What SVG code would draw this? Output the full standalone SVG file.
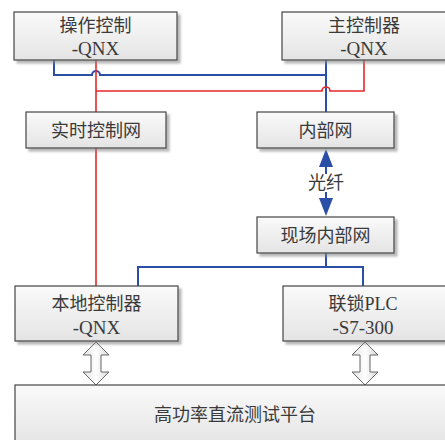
<svg xmlns="http://www.w3.org/2000/svg" width="445" height="440" viewBox="0 0 445 440">
<defs>
<linearGradient id="g" x1="0" y1="0" x2="0" y2="1"><stop offset="0" stop-color="#fafafa"/><stop offset="1" stop-color="#e4e4e4"/></linearGradient>
<linearGradient id="ga" x1="0" y1="0" x2="1" y2="0"><stop offset="0" stop-color="#e0e0e0"/><stop offset="0.5" stop-color="#ffffff"/><stop offset="1" stop-color="#d8d8d8"/></linearGradient>
<filter id="sh" x="-10%" y="-10%" width="130%" height="140%"><feDropShadow dx="3" dy="3" stdDeviation="1.2" flood-color="#888" flood-opacity="0.6"/></filter>
</defs>
<style>
.box{fill:url(#g);stroke:#444;stroke-width:1.2;filter:url(#sh)}
.t{font-family:"Liberation Serif","Noto Sans CJK SC",serif;font-size:18px;fill:#3a3a3a;text-anchor:middle}
.l{font-size:19px}
.blue{fill:none;stroke:#2b4fa6;stroke-width:2}
.red{fill:none;stroke:#e8272b;stroke-width:1.6}
.ha{fill:url(#ga);stroke:#666;stroke-width:1}
</style>
<g id="connectors">
<path class="blue" d="M54,60 V75 H92 A4,4 0 0 1 100,75 H326"/>
<path class="blue" d="M326,60 V112"/>
<path class="red" d="M96,60 V112"/>
<path class="red" d="M96,91 H322 A4,4 0 0 1 330,91 H364 V60"/>
<path class="red" d="M96,148 V286"/>
<path class="blue" d="M326,253 V267 M138,286 V267 H363 V286"/>
<path class="blue" d="M326,167 V174 M326,192 V198"/>
<polygon fill="#2b4fa6" points="326,149 333,167 319,167"/>
<polygon fill="#2b4fa6" points="326,216 333,198 319,198"/>
<path class="ha" d="M96,342 L109,355 L101,355 L101,372 L109,372 L96,385 L83,372 L91,372 L91,355 L83,355 Z"/>
<path class="ha" d="M365,342 L378,355 L370,355 L370,372 L378,372 L365,385 L352,372 L360,372 L360,355 L352,355 Z"/>
</g>
<text class="t" x="326" y="189">光纤</text>
<g id="n1"><rect class="box" x="14" y="12" width="163" height="48"/><text class="t" x="95.5" y="32">操作控制</text><text class="t l" x="95.5" y="55">-QNX</text></g>
<g id="n2"><rect class="box" x="282" y="12" width="164" height="48"/><text class="t" x="364" y="32">主控制器</text><text class="t l" x="364" y="55">-QNX</text></g>
<g id="n3"><rect class="box" x="26" y="112" width="140" height="36"/><text class="t" x="96" y="137">实时控制网</text></g>
<g id="n4"><rect class="box" x="257" y="112" width="137" height="36"/><text class="t" x="325.5" y="137">内部网</text></g>
<g id="n5"><rect class="box" x="257" y="217" width="137" height="36"/><text class="t" x="325.5" y="242">现场内部网</text></g>
<g id="n6"><rect class="box" x="15" y="286" width="163" height="55"/><text class="t" x="96.5" y="310">本地控制器</text><text class="t l" x="96.5" y="334">-QNX</text></g>
<g id="n7"><rect class="box" x="283" y="286" width="164" height="55"/><text class="t" x="363" y="310">联锁PLC</text><text class="t l" x="363" y="334">-S7-300</text></g>
<g id="n8"><rect class="box" x="15" y="385" width="440" height="60"/><text class="t" x="235" y="421">高功率直流测试平台</text></g>
</svg>
